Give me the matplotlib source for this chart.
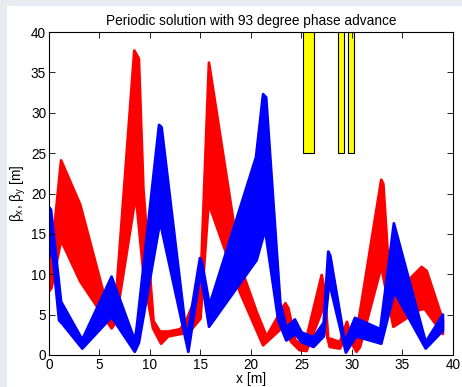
"""Beta functions for the periodic solution, MATLAB-like style."""

import numpy as np
import matplotlib
matplotlib.use('Agg')
import matplotlib.pyplot as plt
from matplotlib.patches import Rectangle

plt.rcParams['font.family'] = ['Liberation Sans', 'DejaVu Sans']
plt.rcParams['mathtext.fontset'] = 'custom'
plt.rcParams['mathtext.rm'] = 'Liberation Sans'
plt.rcParams['mathtext.it'] = 'Liberation Sans'

# beta_x band: upper and lower envelope of all solutions
bx_up_s = [0.0, 0.25, 1.2, 3.1, 5.8, 6.2, 6.5, 8.45, 8.9, 9.35, 10.35, 11.0, 11.8,
           13.0, 13.6, 15.0, 15.84, 18.25, 18.9, 20.6, 21.55, 23.4, 23.7, 24.4,
           25.3, 27.0, 27.3, 27.65, 27.9, 28.8, 29.5, 29.8, 30.3, 32.9, 33.1,
           33.8, 34.1, 36.9, 37.4, 39.0]
bx_up = [12.0, 12.3, 24.1, 18.6, 5.8, 4.6, 4.8, 37.7, 36.7, 20.5, 4.2, 2.9, 2.9,
         3.2, 4.3, 8.5, 36.2, 16.7, 11.2, 5.2, 2.3, 6.4, 5.8, 1.8,
         1.1, 9.9, 8.0, 2.0, 2.0, 1.6, 4.1, 2.8, 1.5, 21.7, 21.2,
         7.6, 7.4, 10.9, 10.4, 4.3]
bx_lo_s = [0.0, 0.25, 1.2, 3.1, 6.2, 6.6, 8.6, 9.4, 10.3, 11.1, 11.8, 13.0, 13.8,
           15.0, 15.8, 18.9, 21.2, 23.2, 24.0, 24.8, 25.5, 27.2, 27.5, 27.8,
           28.8, 29.5, 30.45, 30.8, 32.9, 34.1, 36.7, 37.2, 39.0]
bx_lo = [7.9, 8.3, 14.2, 9.1, 3.3, 4.0, 19.8, 9.5, 3.3, 1.4, 2.3, 2.6, 2.7,
         4.5, 18.8, 7.8, 1.2, 3.5, 1.6, 0.6, 0.5, 6.0, 2.5, 1.0,
         0.8, 2.5, 0.4, 1.0, 10.9, 3.5, 5.6, 5.7, 2.6]

# beta_y band
by_up_s = [0.0, 0.2, 1.2, 3.3, 6.2, 8.5, 8.7, 10.9, 11.15, 13.65, 14.95, 15.15,
           15.9, 20.5, 21.2, 21.5, 22.9, 23.5, 24.35, 25.0, 26.2, 27.2, 27.65,
           27.85, 29.3, 30.3, 32.8, 34.15, 37.3, 39.0]
by_up = [18.3, 18.0, 6.6, 1.9, 9.7, 1.8, 3.5, 28.5, 28.2, 2.0, 12.0, 11.5,
         6.2, 24.5, 32.3, 31.9, 6.5, 3.4, 4.4, 2.8, 2.2, 4.0, 12.8,
         12.3, 1.6, 4.6, 3.2, 16.3, 1.6, 5.0]
by_lo_s = [0.0, 0.2, 1.0, 1.3, 3.3, 6.2, 8.5, 8.9, 11.0, 13.8, 15.0, 15.85,
           20.56, 21.4, 22.7, 23.5, 24.4, 25.0, 26.2, 27.2, 27.75, 29.4, 30.4,
           32.9, 34.2, 37.3, 39.0]
by_lo = [12.0, 14.5, 4.3, 3.9, 0.8, 4.7, 0.4, 1.5, 16.5, 0.4, 10.2, 3.5,
         11.75, 15.5, 4.3, 1.8, 2.6, 1.6, 1.0, 2.3, 9.0, 0.3, 2.3,
         1.4, 7.8, 0.8, 3.0]

# magnet positions (start, end) drawn at the top
mag_start = [25.15, 28.6, 29.6]
mag_end = [26.2, 29.2, 30.2]
mag_bottom = 25.0

fig = plt.figure(figsize=(4.62, 3.87), dpi=100, facecolor='white')
# light frame strip of the screenshot
fig.patches.append(Rectangle((0, 0), 0.015, 1, transform=fig.transFigure,
                             facecolor='#e8ecf1', edgecolor='none', zorder=0))
fig.patches.append(Rectangle((0, 0.985), 1, 0.015, transform=fig.transFigure,
                             facecolor='#e8ecf1', edgecolor='none', zorder=0))

ax = fig.add_axes([0.106, 0.0827, 0.8745, 0.8346])


def band(s_up, v_up, s_lo, v_lo, color):
    xs = np.r_[s_up, s_lo[::-1]]
    ys = np.r_[v_up, v_lo[::-1]]
    ax.fill(xs, ys, facecolor=color, edgecolor=color, linewidth=2.0,
            joinstyle='round')


band(np.array(bx_up_s), np.array(bx_up), np.array(bx_lo_s), np.array(bx_lo), '#ff0000')
band(np.array(by_up_s), np.array(by_up), np.array(by_lo_s), np.array(by_lo), '#0000ff')

for a, b in zip(mag_start, mag_end):
    ax.add_patch(Rectangle((a, mag_bottom), b - a, 20, facecolor='#ffff00',
                           edgecolor='black', linewidth=0.8, clip_on=True))

ax.set_xlim(0, 40)
ax.set_ylim(0, 40)
ax.set_xticks(np.arange(0, 41, 5))
ax.set_yticks(np.arange(0, 41, 5))
ax.tick_params(direction='in', top=True, right=True, length=4, width=0.6,
               labelsize=9.8, pad=2)
for sp in ax.spines.values():
    sp.set_linewidth(0.8)

ax.set_title('Periodic solution with 93 degree phase advance', fontsize=9.8, pad=5)
ax.set_xlabel('x [m]', fontsize=10, labelpad=0)
ax.set_ylabel(r'$\beta_x$, $\beta_y$ [m]', fontsize=9.8, labelpad=2)

fig.savefig('out.png', dpi=100, facecolor='white')
